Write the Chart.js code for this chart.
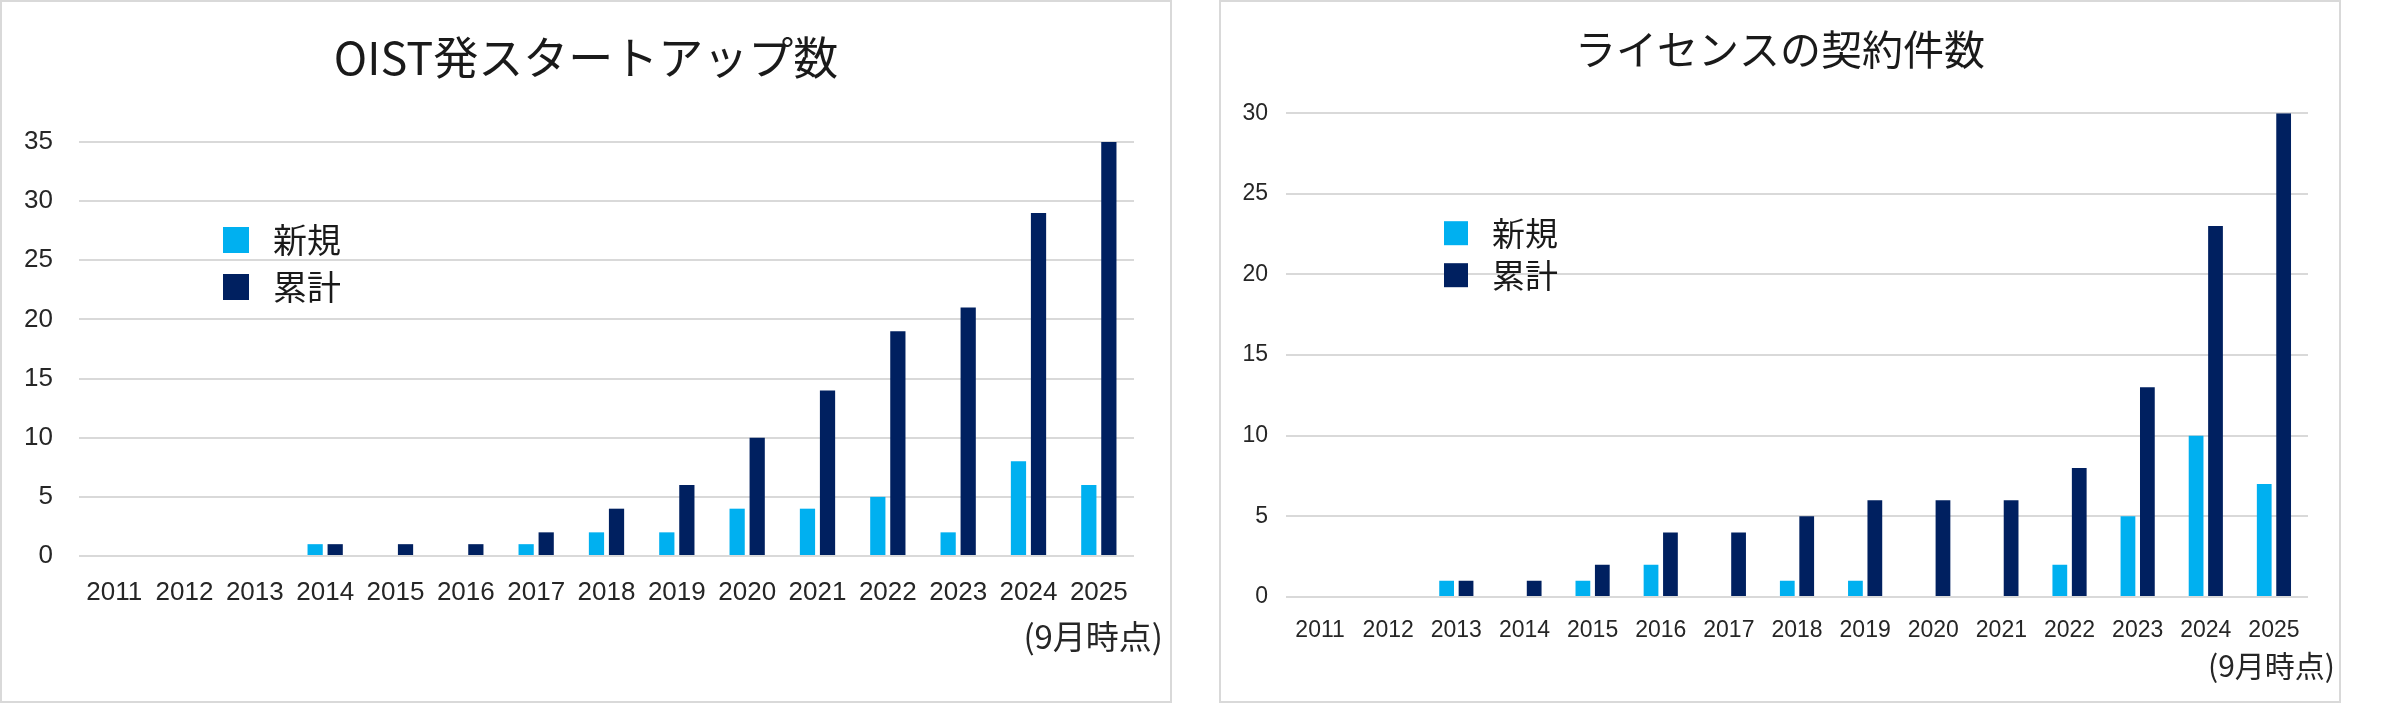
<!DOCTYPE html>
<html>
<head>
<meta charset="utf-8">
<script src="https://cdn.jsdelivr.net/npm/chart.js@4.4.1/dist/chart.umd.min.js"></script>
<style>
html, body { margin: 0; padding: 0; background: #fff; width: 2389px; height: 705px; overflow: hidden; }
.box { position: absolute; top: 0; height: 703px; border: 2px solid #d9d9d9; box-sizing: border-box; }
#box1 { left: 0; width: 1172px; }
#box2 { left: 1219px; width: 1122px; }
canvas { display: block; }
</style>
</head>
<body>
<div class="box" id="box1"><canvas id="chart1" width="1168" height="699"></canvas></div>
<div class="box" id="box2"><canvas id="chart2" width="1118" height="699"></canvas></div>
<script>
const years = ['2011', '2012', '2013', '2014', '2015', '2016', '2017', '2018', '2019', '2020', '2021', '2022', '2023', '2024', '2025'];
const seriesNames = ['新規', '累計'];

// OIST発スタートアップ数
const startupNew   = [0, 0, 0, 1, 0, 0, 1, 2, 2, 4, 4, 5, 2, 8, 6];
const startupTotal = [0, 0, 0, 1, 1, 1, 2, 4, 6, 10, 14, 19, 21, 29, 35];

// ライセンスの契約件数
const licenseNew   = [0, 0, 1, 0, 1, 2, 0, 1, 1, 0, 0, 2, 5, 10, 7];
const licenseTotal = [0, 0, 1, 1, 2, 4, 4, 5, 6, 6, 6, 8, 13, 23, 30];

const yMax1 = 35;
const yMax2 = 30;
const yStep = 5;
const note = '(9月時点)';

const jpFont = '"Noto Sans CJK JP", sans-serif';
const tickFont = '"Liberation Sans", "Noto Sans CJK JP", sans-serif';
const newColor = '#00B0F0';
const totalColor = '#002060';

// draws the legend inside the plot area and the footnote under the axis
const boxLegend = {
    id: 'boxLegend',
    afterDraw(chart, args, opts) {
        const { ctx, chartArea } = chart;
        ctx.save();
        ctx.font = `${opts.fontSize}px ${jpFont}`;
        ctx.textBaseline = 'middle';
        ctx.textAlign = 'left';
        chart.data.datasets.forEach((ds, i) => {
            const x = chartArea.left + opts.x;
            const y = chartArea.top + opts.y + i * opts.gap;
            ctx.fillStyle = ds.backgroundColor;
            ctx.fillRect(x, y, opts.box, opts.box);
            ctx.fillStyle = '#1a1a1a';
            ctx.fillText(ds.label, x + opts.box + opts.textGap, y + opts.box / 2);
        });
        ctx.font = `${opts.noteSize}px ${jpFont}`;
        ctx.textAlign = 'right';
        ctx.fillStyle = '#262626';
        ctx.fillText(note, chart.width - opts.noteRight, opts.noteY);
        ctx.restore();
    }
};

function makeChart(id, title, newData, totalData, yMax, s) {
    const ctx = document.getElementById(id).getContext('2d');
    return new Chart(ctx, {
        type: 'bar',
        data: {
            labels: years,
            datasets: [
                { label: seriesNames[0], data: newData, backgroundColor: newColor },
                { label: seriesNames[1], data: totalData, backgroundColor: totalColor }
            ]
        },
        options: {
            responsive: false,
            maintainAspectRatio: false,
            animation: false,
            categoryPercentage: 0.57,
            barPercentage: 0.76,
            layout: { padding: 0 },
            plugins: {
                legend: { display: false },
                tooltip: { enabled: false },
                title: {
                    display: true,
                    text: title,
                    color: '#1a1a1a',
                    font: { family: jpFont, size: s.titleSize, weight: 'normal' },
                    padding: { top: s.titleTop, bottom: s.titleBottom }
                },
                boxLegend: s.legend
            },
            scales: {
                x: {
                    grid: { display: false },
                    border: { display: false },
                    ticks: {
                        autoSkip: false,
                        maxRotation: 0,
                        padding: s.xPad,
                        color: '#262626',
                        font: { family: tickFont, size: s.tickSize }
                    },
                    afterFit(scale) { scale.height = s.xHeight; }
                },
                y: {
                    min: 0,
                    max: yMax,
                    border: { display: false },
                    grid: { color: '#d9d9d9', lineWidth: 2, drawTicks: false },
                    ticks: {
                        stepSize: yStep,
                        padding: s.yPad,
                        color: '#262626',
                        font: { family: tickFont, size: s.tickSize }
                    },
                    afterFit(scale) { scale.width = s.yWidth; }
                },
                // empty right margin so the title stays centred on the whole box
                yR: {
                    position: 'right',
                    grid: { display: false },
                    border: { display: false },
                    ticks: { display: false },
                    afterFit(scale) { scale.width = s.rightGap; }
                }
            }
        },
        plugins: [boxLegend]
    });
}

makeChart('chart1', 'OIST発スタートアップ数', startupNew, startupTotal, yMax1, {
    yWidth: 77, rightGap: 36, yPad: 26, xHeight: 145, xPad: 13,
    titleSize: 45, titleTop: 29, titleBottom: 57, tickSize: 26,
    legend: { x: 144, y: 85, gap: 47, box: 26, textGap: 24, fontSize: 34, noteSize: 33, noteRight: 7, noteY: 634 }
});

makeChart('chart2', 'ライセンスの契約件数', licenseNew, licenseTotal, yMax2, {
    yWidth: 65, rightGap: 31, yPad: 18, xHeight: 104, xPad: 12,
    titleSize: 41, titleTop: 23, titleBottom: 39, tickSize: 23,
    legend: { x: 158, y: 108, gap: 42, box: 24, textGap: 24, fontSize: 33, noteSize: 30, noteRight: 4, noteY: 664 }
});
</script>
</body>
</html>
